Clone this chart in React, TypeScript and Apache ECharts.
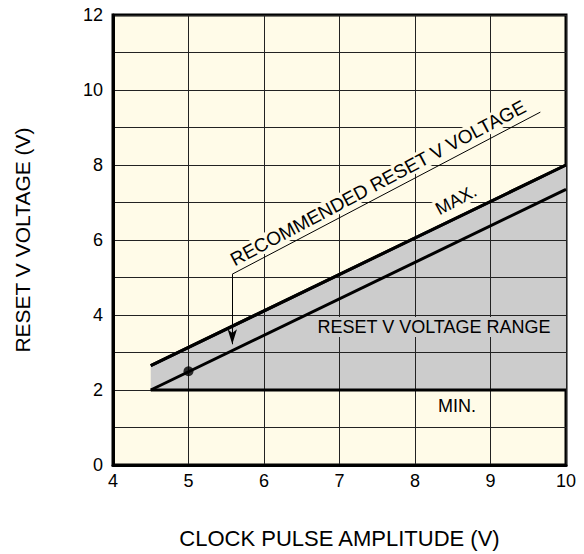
import React, { useEffect, useRef } from "react";
import * as echarts from "echarts";

// ---- data ----
const xRange = [4.5, 10];
const maxVoltage = [2.65, 8.0];
const recommendedVoltage = [2.0, 7.35];
const minVoltage = [2.0, 2.0];
const recommendedPoint = [5, 2.5];
const leaderPath: number[][] = [
  [9.66, 9.41],
  [5.58, 5.09],
];
const arrowEnd = [5.58, 3.22];
const yTickLabels = [0, 2, 4, 6, 8, 10, 12];
const xTickLabels = [4, 5, 6, 7, 8, 9, 10];

const FONT = "Liberation Sans, Arial, Helvetica, sans-serif";
const CREAM = "#fffbe8";
const GRAY = "#cccccc";

export default function App() {
  const ref = useRef<HTMLDivElement>(null);
  useEffect(() => {
    if (!ref.current) return;
    const chart = echarts.init(ref.current, null, { renderer: "svg" });
    const pair = (ys: number[]) => xRange.map((x, i) => [x, ys[i]]);
    const rot = (28 * Math.PI) / 180;
    chart.setOption({
      animation: false,
      backgroundColor: "#ffffff",
      textStyle: { fontFamily: FONT },
      grid: {
        left: 113,
        top: 15,
        right: 18,
        bottom: 87,
        show: true,
        backgroundColor: CREAM,
        borderColor: "#000",
        borderWidth: 3,
      },
      xAxis: {
        type: "value",
        min: 4,
        max: 10,
        interval: 1,
        z: 3,
        axisLine: { show: true, lineStyle: { color: "#000", width: 3 } },
        axisTick: { show: false },
        axisLabel: {
          color: "#000",
          fontSize: 18,
          fontFamily: FONT,
          margin: 7,
          formatter: (v: number) => (xTickLabels.includes(v) ? String(v) : ""),
        },
        splitLine: { show: true, lineStyle: { color: "#222", width: 1 } },
        name: "CLOCK PULSE AMPLITUDE (V)",
        nameLocation: "middle",
        nameGap: 62,
        nameTextStyle: { color: "#000", fontSize: 22, fontFamily: FONT },
      },
      yAxis: {
        type: "value",
        min: 0,
        max: 12,
        interval: 1,
        z: 3,
        axisLine: { show: true, lineStyle: { color: "#000", width: 3 } },
        axisTick: { show: false },
        axisLabel: {
          color: "#000",
          fontSize: 18,
          fontFamily: FONT,
          margin: 10,
          formatter: (v: number) => (yTickLabels.includes(v) ? String(v) : ""),
        },
        splitLine: { show: true, lineStyle: { color: "#222", width: 1 } },
        name: "RESET V VOLTAGE (V)",
        nameLocation: "middle",
        nameGap: 80,
        nameTextStyle: { color: "#000", fontSize: 21, fontFamily: FONT },
      },
      series: [
        {
          type: "line",
          name: "MAX.",
          data: pair(maxVoltage),
          symbol: "none",
          lineStyle: { color: "#000", width: 3 },
          areaStyle: { color: GRAY, opacity: 1, origin: minVoltage[0] },
          z: 2,
        },
        {
          type: "line",
          name: "MIN.",
          data: pair(minVoltage),
          symbol: "none",
          lineStyle: { color: "#000", width: 3 },
          z: 4,
        },
        {
          type: "line",
          name: "Recommended",
          data: pair(recommendedVoltage),
          symbol: "none",
          lineStyle: { color: "#000", width: 3 },
          z: 4,
        },
        {
          type: "line",
          name: "MAXLINE",
          data: pair(maxVoltage),
          symbol: "none",
          lineStyle: { color: "#000", width: 3 },
          z: 4,
        },
        {
          type: "scatter",
          name: "point",
          data: [recommendedPoint],
          symbol: "circle",
          symbolSize: 10,
          itemStyle: { color: "#000" },
          z: 5,
        },
        {
          type: "line",
          name: "leader",
          data: leaderPath,
          symbol: "none",
          lineStyle: { color: "#000", width: 1 },
          z: 4,
          markLine: {
            silent: true,
            symbol: ["none", "arrow"],
            symbolSize: [7, 15],
            label: { show: false },
            lineStyle: { color: "#000", width: 1, type: "solid" },
            data: [
              [
                { coord: leaderPath[1] },
                { coord: arrowEnd },
              ],
            ],
          },
        },
      ],
      graphic: [
        {
          type: "text",
          x: 378,
          y: 183,
          rotation: rot,
          z: 10,
          style: {
            text: "RECOMMENDED RESET V VOLTAGE",
            fill: "#000",
            font: `19px ${FONT}`,
            align: "center",
            verticalAlign: "middle",
            backgroundColor: CREAM,
            padding: [0, 2],
          },
        },
        {
          type: "text",
          x: 456,
          y: 200,
          rotation: rot,
          z: 10,
          style: {
            text: "MAX.",
            fill: "#000",
            font: `18px ${FONT}`,
            align: "center",
            verticalAlign: "middle",
            backgroundColor: CREAM,
            padding: [0, 3],
          },
        },
        {
          type: "text",
          x: 434,
          y: 327,
          z: 10,
          style: {
            text: "RESET V VOLTAGE RANGE",
            fill: "#000",
            font: `18px ${FONT}`,
            align: "center",
            verticalAlign: "middle",
            backgroundColor: GRAY,
            padding: [1, 2],
          },
        },
        {
          type: "text",
          x: 457,
          y: 406,
          z: 10,
          style: {
            text: "MIN.",
            fill: "#000",
            font: `18px ${FONT}`,
            align: "center",
            verticalAlign: "middle",
            backgroundColor: CREAM,
            padding: [1, 2],
          },
        },
      ],
    });
    return () => chart.dispose();
  }, []);
  return (
    <div
      ref={ref}
      style={{ position: "fixed", left: 0, top: 0, width: 584, height: 554 }}
    />
  );
}
